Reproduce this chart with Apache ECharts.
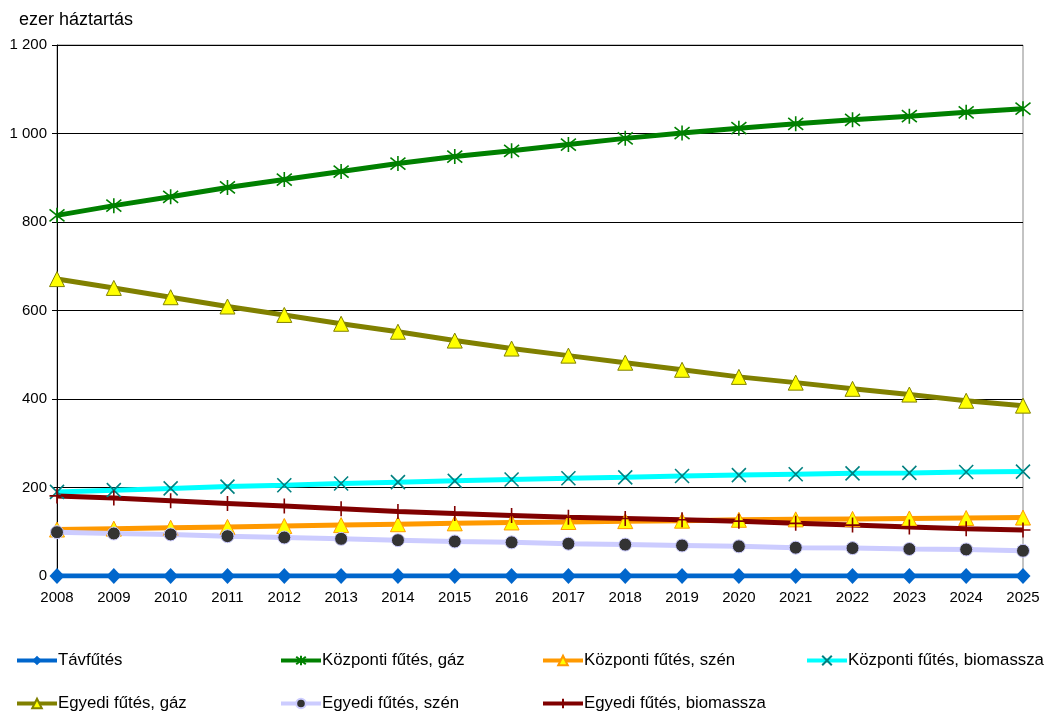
<!DOCTYPE html>
<html>
<head>
<meta charset="utf-8">
<script src="https://cdn.jsdelivr.net/npm/echarts@6/dist/echarts.min.js"></script>
<style>
  html, body { margin: 0; padding: 0; background: #fff; }
  #chart { width: 1048px; height: 711px; }
</style>
</head>
<body>
<div id="chart"></div>
<script>
// Years on the horizontal axis
const years = ['2008','2009','2010','2011','2012','2013','2014','2015','2016','2017','2018','2019','2020','2021','2022','2023','2024','2025'];

// Households by heating type (thousand)
const tavfutes          = [0,0,0,0,0,0,0,0,0,0,0,0,0,0,0,0,0,0];
const kozpontiGaz       = [815,837,857,878,896,914,932,948,961,975,989,1001,1012,1022,1031,1039,1048,1056];
const kozpontiSzen      = [105,107,109,111,113,115,117,119,121,122,124,125,127,128,129,130,131,132];
const kozpontiBiomassza = [190,194,198,202,205,209,212,215,218,221,223,226,228,230,232,233,235,236];
const egyediGaz         = [671,651,630,609,590,570,552,532,514,498,482,466,450,437,423,410,396,385];
const egyediSzen        = [99,96,94,90,87,84,81,78,76,73,71,69,67,64,63,61,60,57];
const egyediBiomassza   = [181,176,170,164,158,152,146,141,137,133,130,127,124,119,115,111,107,104];

const seriesNames = [
  'Távfűtés',
  'Központi fűtés, gáz',
  'Központi fűtés, szén',
  'Központi fűtés, biomassza',
  'Egyedi fűtés, gáz',
  'Egyedi fűtés, szén',
  'Egyedi fűtés, biomassza'
];

// Stroke-only marker shapes
const pathAsterisk = 'path://M1 1L9 9M1 9L9 1M5 0L5 10';
const pathCross = 'path://M0 0L10 10M0 10L10 0';
const pathPlus = 'path://M5 0L5 10M0 5L10 5';

const FONT = 'Liberation Sans, Arial, sans-serif';

function lineSeries(name, data, lineColor, symbol, size, fill, border, borderW) {
  return {
    name: name,
    type: 'line',
    data: data,
    symbol: symbol,
    symbolSize: size,
    showAllSymbol: true,
    animation: false,
    lineStyle: { color: lineColor, width: 5 },
    itemStyle: { color: fill, borderColor: border, borderWidth: borderW }
  };
}

const series = [
  lineSeries(seriesNames[0], tavfutes, '#0066CC', 'diamond', [15, 16], '#0066CC', '#0066CC', 0),
  lineSeries(seriesNames[1], kozpontiGaz, '#008000', pathAsterisk, 15, 'rgba(0,0,0,0)', '#008000', 1.6),
  lineSeries(seriesNames[2], kozpontiSzen, '#FF9900', 'triangle', 15, '#FFFF00', '#FF9900', 1),
  lineSeries(seriesNames[3], kozpontiBiomassza, '#00FFFF', pathCross, 14, 'rgba(0,0,0,0)', '#008080', 1.6),
  lineSeries(seriesNames[4], egyediGaz, '#808000', 'triangle', 15, '#FFFF00', '#808000', 1),
  lineSeries(seriesNames[5], egyediSzen, '#CCCCFF', 'circle', 13, '#333333', '#CCCCFF', 1),
  lineSeries(seriesNames[6], egyediBiomassza, '#800000', pathPlus, 15, 'rgba(0,0,0,0)', '#800000', 1.6)
];

// Legend placement: two rows of four columns
const legendSlots = [
  [15, 652], [279, 652], [541, 652], [805, 652],
  [15, 695], [279, 695], [541, 695]
];

const legends = seriesNames.map((n, i) => ({
  data: [n],
  left: legendSlots[i][0],
  top: legendSlots[i][1],
  itemWidth: 40,
  itemHeight: 12,
  itemGap: 0,
  padding: 0,
  selectedMode: false,
  lineStyle: { width: 4 },
  textStyle: { fontFamily: FONT, fontSize: 16.8, color: '#000', padding: [0, 0, 0, -4] }
}));

const chart = echarts.init(document.getElementById('chart'), null, { renderer: 'canvas' });

chart.setOption({
  backgroundColor: '#fff',
  animation: false,
  title: {
    text: 'ezer háztartás',
    left: 14,
    top: 6,
    textStyle: { fontFamily: FONT, fontSize: 18, fontWeight: 'normal', color: '#000' }
  },
  legend: legends,
  grid: { left: 57, right: 25, top: 45, bottom: 135, show: true, borderColor: '#888', borderWidth: 1 },
  xAxis: {
    type: 'category',
    data: years,
    boundaryGap: false,
    axisLine: { lineStyle: { color: '#000', width: 1 } },
    axisTick: { show: false },
    axisLabel: { fontFamily: FONT, fontSize: 15, color: '#000', margin: 14 }
  },
  yAxis: {
    type: 'value',
    min: 0,
    max: 1200,
    interval: 200,
    axisLine: { show: true, lineStyle: { color: '#000', width: 1 } },
    axisTick: { show: true, length: 5, lineStyle: { color: '#000' } },
    splitLine: { lineStyle: { color: '#000', width: 1 } },
    axisLabel: {
      fontFamily: FONT, fontSize: 15, color: '#000', margin: 10,
      formatter: v => String(v).replace(/\B(?=(\d{3})+(?!\d))/g, ' ')
    }
  },
  series: series
});
</script>
</body>
</html>
